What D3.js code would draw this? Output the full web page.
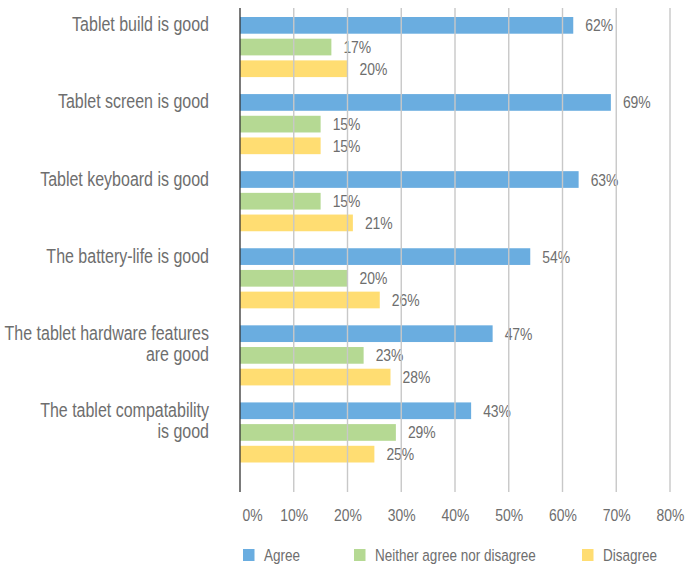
<!DOCTYPE html>
<html>
<head>
<meta charset="utf-8">
<script src="https://cdn.jsdelivr.net/npm/d3@7"></script>
<style>
  html, body { margin: 0; padding: 0; background: #fff; }
  svg text { font-family: "Liberation Sans", Arial, sans-serif; fill: #6e6e6e; }
</style>
</head>
<body>
<svg id="chart" width="687" height="564"></svg>
<script>
const categories = [
  ["Tablet build is good"],
  ["Tablet screen is good"],
  ["Tablet keyboard is good"],
  ["The battery-life is good"],
  ["The tablet hardware features", "are good"],
  ["The tablet compatability", "is good"]
];
const seriesNames = ["Agree", "Neither agree nor disagree", "Disagree"];
const agree    = [62, 69, 63, 54, 47, 43];
const neither  = [17, 15, 15, 20, 23, 29];
const disagree = [20, 15, 21, 26, 28, 25];
const xTicks = [0, 10, 20, 30, 40, 50, 60, 70, 80];
const colors = ["#6aade0", "#b5d993", "#ffdd72"];

const seriesValues = [agree, neither, disagree];
const NARROW = 0.82; // condensed look
const svg = d3.select("#chart");

const x = d3.scaleLinear().domain([0, 80]).range([240, 670]);
const y0 = d3.scaleBand().domain(d3.range(categories.length)).range([17, 462.5]).paddingInner(0.2205).paddingOuter(0);
const y1 = d3.scaleBand().domain(d3.range(seriesNames.length)).range([0, y0.bandwidth()]).paddingInner(0.23).paddingOuter(0);

// bars
const groups = svg.append("g").selectAll("g")
  .data(categories.map((c, i) => i))
  .join("g")
  .attr("transform", i => `translate(0,${y0(i)})`);

groups.selectAll("rect")
  .data(i => seriesValues.map((s, k) => ({k, v: s[i]})))
  .join("rect")
  .attr("x", x(0))
  .attr("y", d => y1(d.k))
  .attr("width", d => x(d.v) - x(0))
  .attr("height", y1.bandwidth())
  .attr("fill", d => colors[d.k]);

// value labels
groups.selectAll("text.val")
  .data(i => seriesValues.map((s, k) => ({k, v: s[i]})))
  .join("text")
  .attr("class", "val")
  .attr("transform", d => `translate(${x(d.v) + 12},${y1(d.k) + y1.bandwidth() / 2 + 6}) scale(${NARROW},1)`)
  .style("font-size", "17px")
  .text(d => d.v + "%");

// gridlines (on top of bars)
svg.append("g").selectAll("line")
  .data(xTicks.filter(t => t > 0))
  .join("line")
  .attr("x1", d => x(d)).attr("x2", d => x(d))
  .attr("y1", 8).attr("y2", 492)
  .attr("stroke", "#c8c8c8")
  .attr("stroke-width", 1.4);

// y axis line
svg.append("line")
  .attr("x1", x(0)).attr("x2", x(0))
  .attr("y1", 8).attr("y2", 492)
  .attr("stroke", "#333")
  .attr("stroke-width", 1.3);

// x axis tick labels
const xAxis = d3.axisBottom(x).tickValues(xTicks).tickSize(0).tickPadding(0).tickFormat(d => d + "%");
const gx = svg.append("g").attr("transform", "translate(0,508)").call(xAxis);
gx.select(".domain").remove();
gx.selectAll("text")
  .attr("y", 0)
  .attr("dy", 0)
  .attr("transform", (d, i) => `translate(${i === 0 ? 12 : 0},13) scale(${NARROW},1)`)
  .style("font-size", "17px")
  .style("fill", "#6e6e6e");

// category labels
const labels = svg.append("g").selectAll("text")
  .data(categories.map((c, i) => ({c, i})))
  .join("text")
  .attr("text-anchor", "end")
  .attr("transform", d => `translate(209,${y0(d.i) + y1(0) + y1.bandwidth() / 2 + 6}) scale(${NARROW},1)`)
  .style("font-size", "19.5px");
labels.selectAll("tspan")
  .data(d => d.c)
  .join("tspan")
  .attr("x", 0)
  .attr("dy", (d, j) => j === 0 ? 0 : 21)
  .text(d => d);

// legend
const legendX = [243, 354, 582];
const lg = svg.append("g").selectAll("g")
  .data(seriesNames.map((n, k) => ({n, k})))
  .join("g")
  .attr("transform", d => `translate(${legendX[d.k]},549)`);
lg.append("rect").attr("width", 11.5).attr("height", 12).attr("fill", d => colors[d.k]);
lg.append("text")
  .attr("transform", `translate(21,12) scale(${NARROW},1)`)
  .style("font-size", "16.5px")
  .text(d => d.n);
</script>
</body>
</html>
